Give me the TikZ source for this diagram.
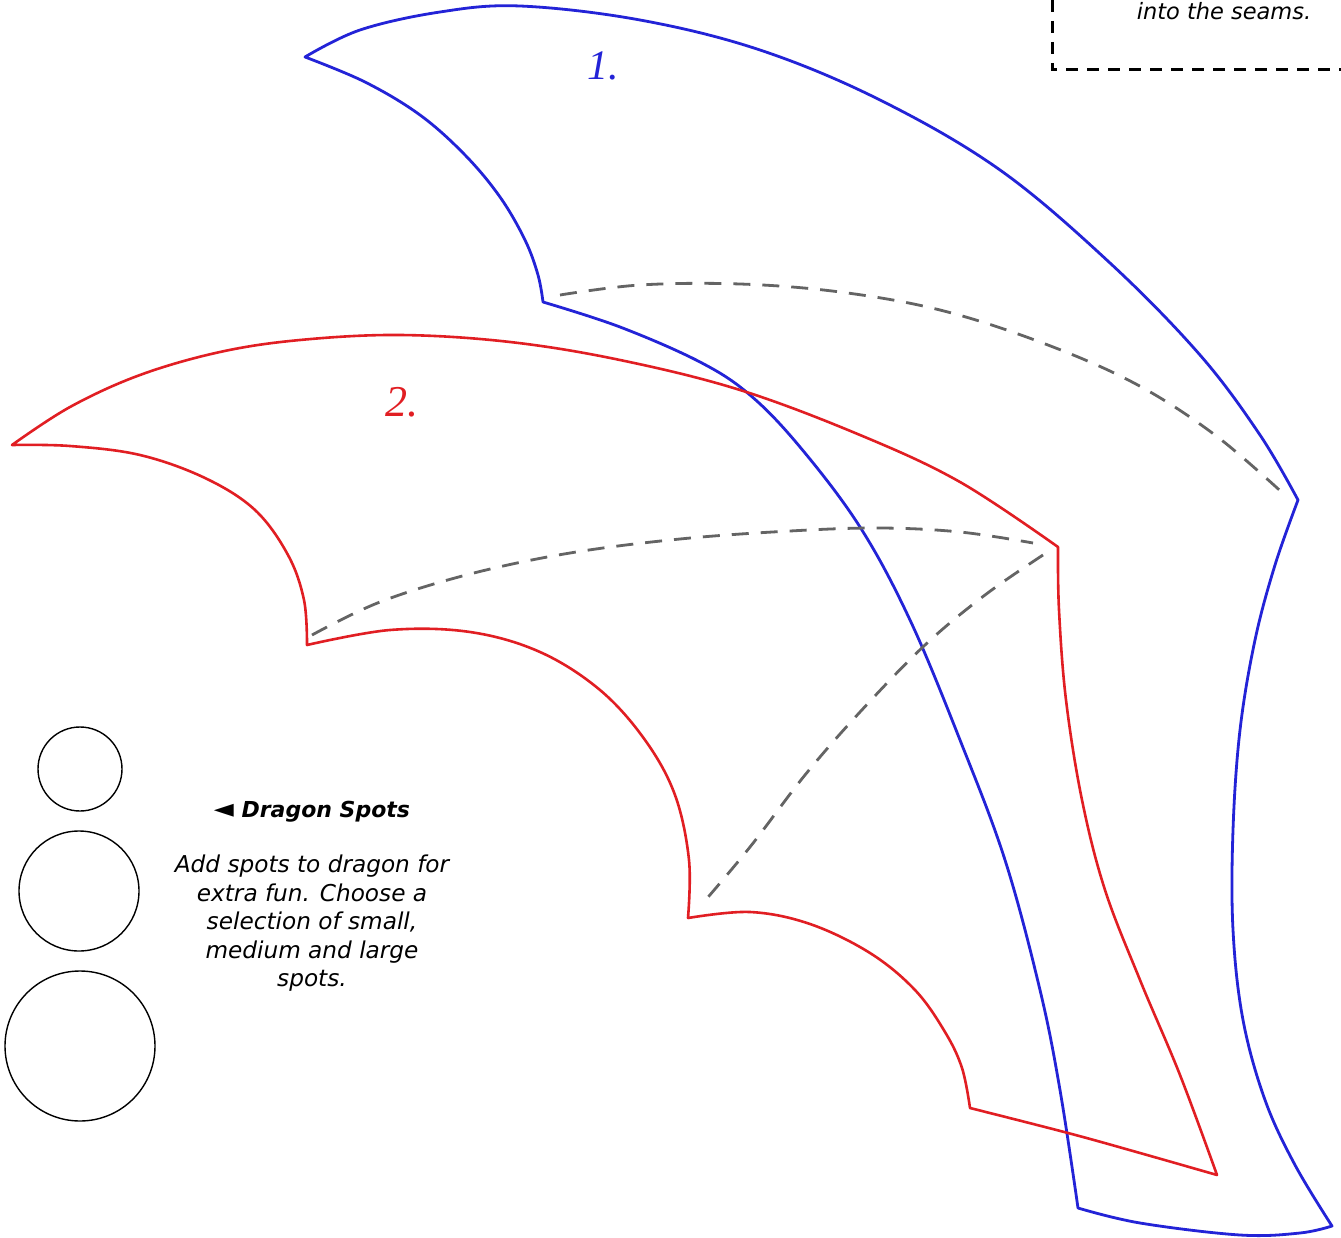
\documentclass[tikz,border=0pt]{standalone}
\usepackage{fontspec}
\setmainfont{DejaVu Sans}
\newfontfamily\handfont{Liberation Serif}
\begin{document}
\begin{tikzpicture}[x=1pt,y=-1pt,
  blueline/.style={draw={rgb,255:red,35;green,35;blue,215},line width=2.8pt,line join=round,line cap=round},
  redline/.style={draw={rgb,255:red,225;green,30;blue,35},line width=2.6pt,line join=round,line cap=round},
  seam/.style={draw={rgb,255:red,100;green,100;blue,100},line width=2.8pt,dash pattern=on 17pt off 12pt},
  spot/.style={circle,draw=black,line width=1.4pt,inner sep=0pt},
  boxline/.style={draw=black,line width=3pt,dash pattern=on 12pt off 9pt},
  sm/.style={smooth,tension=0.6}]
\useasboundingbox (0,0) rectangle (1341,1238);
\fill[white] (0,0) rectangle (1341,1238);

% ---------- blue piece (1) ----------
\draw[blueline] plot[sm] coordinates {(305,57) (360,30) (440,12) (520,6) (640,20) (760,50) (880,100) (1000,170) (1110,263) (1200,355) (1260,435) (1298,500)}
  -- plot[sm] coordinates {(1298,500) (1275,565) (1255,640) (1240,730) (1233,830) (1233,930) (1243,1020) (1265,1100) (1295,1165) (1332,1226)}
  -- plot[sm] coordinates {(1332,1226) (1300,1233) (1240,1235) (1140,1223) (1078,1208)}
  -- plot[sm] coordinates {(1078,1208) (1060,1090) (1040,990) (1005,860) (960,740) (910,620) (860,527) (800,447) (750,395) (700,362) (620,327) (543,302)}
  -- plot[sm] coordinates {(543,302) (538,275) (525,240) (500,197) (465,155) (420,115) (365,82) (305,57)}
  -- cycle;
\draw[seam] plot[sm] coordinates {(560,295) (640,285) (740,284) (840,292) (940,310) (1040,342) (1134,383) (1215,435) (1287,497)};

% ---------- red piece (2) ----------
\draw[redline] plot[sm] coordinates {(12,445) (70,407) (140,375) (220,352) (300,340) (400,335) (510,342) (620,360) (740,390) (860,435) (960,482) (1058,547)}
  -- plot[sm] coordinates {(1058,547) (1059,610) (1066,700) (1082,800) (1105,890) (1140,980) (1180,1075) (1217,1175)}
  -- plot[sm] coordinates {(1217,1175) (1140,1153) (1068,1133) (970,1108)}
  -- plot[sm] coordinates {(970,1108) (962,1068) (945,1032) (915,990) (870,953) (810,924) (750,912) (688,918)}
  -- plot[sm] coordinates {(688,918) (689,860) (675,795) (645,740) (600,690) (540,652) (470,632) (390,630) (307,645)}
  -- plot[sm] coordinates {(307,645) (304,600) (288,555) (255,510) (205,478) (140,455) (70,446) (12,445)}
  -- cycle;
\draw[seam] plot[sm] coordinates {(312,635) (380,602) (470,574) (570,553) (680,539) (790,531) (880,528) (960,532) (1033,543)};
\draw[seam] plot[sm] coordinates {(1043,555) (985,595) (925,645) (860,712) (805,775) (750,847) (703,903)};

% ---------- labels on pieces ----------
\node[text={rgb,255:red,35;green,35;blue,215},font=\handfont\itshape\fontsize{42}{42}\selectfont] (lab1) at (603,66) {1.};
\node[text={rgb,255:red,225;green,30;blue,35},font=\handfont\itshape\fontsize{44}{44}\selectfont] (lab2) at (402,402) {2.};

% ---------- spots ----------
\node[spot,minimum size=84pt] (spotS) at (80,769) {};
\node[spot,minimum size=120pt] (spotM) at (79,891) {};
\node[spot,minimum size=150pt] (spotL) at (80,1046) {};

\node[anchor=base,inner sep=0pt,font=\bfseries\itshape\fontsize{22}{26}\selectfont] (spottitle) at (312,817) {\fontsize{26}{26}\selectfont◄\fontsize{22}{26}\selectfont{} Dragon Spots};
\node[anchor=north,inner sep=0pt,align=center,font=\itshape\fontsize{23.2}{28.5}\selectfont] (spottext) at (312,855)
  {Add spots to dragon for\\extra fun. Choose a\\selection of small,\\medium and large\\spots.};

% ---------- note box ----------
\coordinate (boxtop) at (1052,0);
\coordinate (boxcorner) at (1052,70);
\coordinate (boxright) at (1341,70);
\draw[boxline] (boxtop) -- (boxcorner) -- (boxright);
\node[anchor=base,inner sep=0pt,font=\itshape\fontsize{22.5}{28.5}\selectfont] (seams) at (1224,20) {into the seams.};
\end{tikzpicture}
\end{document}
